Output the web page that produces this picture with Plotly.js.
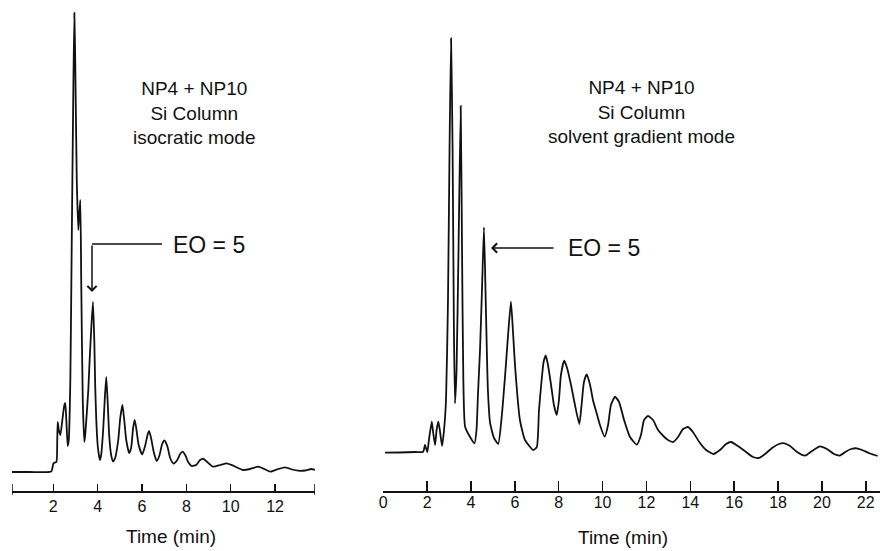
<!DOCTYPE html>
<html>
<head>
<meta charset="utf-8">
<script src="https://cdn.plot.ly/plotly-3.0.1.min.js"></script>
<style>html,body{margin:0;padding:0;background:#fff;}#chart{width:880px;height:551px;}</style>
</head>
<body>
<div id="chart"></div>
<script>
// Left chromatogram: isocratic mode (time in min, detector signal in arbitrary units)
const isoTime = [0.14,0.96,1.91,1.98,2.02,2.14,2.18,2.20,2.25,2.32,2.41,2.50,2.54,2.59,2.65,2.70,2.77,2.83,2.90,2.95,2.99,3.06,3.13,3.17,3.22,3.26,3.33,3.40,3.44,3.49,3.58,3.64,3.71,3.79,3.85,3.89,3.94,4.01,4.10,4.16,4.25,4.32,4.39,4.46,4.52,4.61,4.70,4.79,4.93,5.02,5.12,5.20,5.29,5.42,5.51,5.60,5.67,5.74,5.85,6.01,6.14,6.26,6.32,6.41,6.53,6.66,6.78,6.91,7.01,7.14,7.27,7.42,7.59,7.72,7.83,7.95,8.08,8.24,8.44,8.62,8.78,8.94,9.21,9.52,9.82,10.15,10.56,10.87,11.23,11.51,11.78,12.14,12.45,12.77,13.04,13.35,13.64,13.80];
const isoSignal = [0,0,0.5,6,9,10,32,50,42,37,52,67,69,52,26,32,92,222,372,459,412,292,242,257,272,192,72,30,37,52,82,112,142,170,132,87,52,25,12,17,42,72,95,67,37,17,10.5,14,32,54,67,52,32,19,24,44,52,44,27,17.5,26,38,41,34,20,11,16,28,31.5,26,14,8.5,12,18,20.3,17,10,6,7,12,13,10,5.3,7,8.7,6,2,3,5.3,3,0.3,3,4.7,2.5,1.3,1.5,3,2];

// Right chromatogram: solvent gradient mode
const gradTime = [0.08,0.76,1.45,1.82,1.90,2.01,2.08,2.21,2.27,2.36,2.43,2.51,2.59,2.68,2.77,2.86,2.95,3.02,3.09,3.16,3.22,3.27,3.34,3.43,3.53,3.59,3.65,3.73,3.95,4.16,4.25,4.32,4.41,4.50,4.59,4.66,4.72,4.77,4.87,5.05,5.24,5.40,5.55,5.69,5.82,5.91,6.01,6.23,6.46,6.84,7.00,7.10,7.22,7.31,7.41,7.51,7.65,7.78,7.91,8.01,8.10,8.25,8.38,8.56,8.74,8.94,9.05,9.15,9.28,9.43,9.56,9.73,9.88,10.09,10.25,10.38,10.57,10.75,10.98,11.25,11.56,11.75,11.89,12.07,12.30,12.53,12.77,12.98,13.22,13.44,13.67,13.89,14.12,14.44,14.72,15.05,15.35,15.63,15.86,16.17,16.54,16.86,17.11,17.41,17.73,18.04,18.30,18.55,18.87,19.23,19.55,19.91,20.23,20.55,20.83,21.10,21.33,21.59,21.83,22.19,22.54];
const gradSignal = [0.3,0.5,1,1.3,8,1,13,31.3,21,8,23,31.3,21,7,23,53,153,303,414.7,303,123,49.7,83,203,347,203,73,26.3,16.3,9.7,23,60,103,163,225.7,163,103,63,30,15,9,36.3,76.3,118,151.3,123,86.3,33,13,3,6,43,73,91,97.5,88,68,48,38,53,78,92.3,85,68,48,29,50,71,78.7,68,53,39.7,28,16.3,28,48,56.3,51,33,16,8.3,18,33,37,33,23,17,13,11,16,24,26,21,10,3,-1,3,9,11,7,1,-4,-5,-1,5,9,9.7,7,1,-2.7,2,6.7,4,-1,-2.5,1.5,4,4.7,3,-0.5,-3];

const isoTicks = [2,4,6,8,10,12];
const gradTicks = [0,2,4,6,8,10,12,14,16,18,20,22];

const isoLabel = ['NP4 + NP10','Si Column','isocratic mode'];
const gradLabel = ['NP4 + NP10','Si Column','solvent gradient mode'];
const peakLabel = 'EO = 5';
const axisTitle = 'Time (min)';

const FONT = '"Liberation Sans", Arial, Helvetica, sans-serif';
const INK = '#111';
const W = 880, PLOT_H = 491;
const px = v => v / W;
const py = v => (PLOT_H - v) / PLOT_H;

const traces = [
  {x: isoTime, y: isoSignal, xaxis: 'x', yaxis: 'y', type: 'scatter', mode: 'lines',
   line: {color: INK, width: 1.8, shape: 'spline', smoothing: 0.5}, hoverinfo: 'skip'},
  {x: gradTime, y: gradSignal, xaxis: 'x2', yaxis: 'y2', type: 'scatter', mode: 'lines',
   line: {color: INK, width: 1.8, shape: 'spline', smoothing: 0.5}, hoverinfo: 'skip'}
];

const xCommon = {
  showline: true, linecolor: INK, linewidth: 1.6, ticks: 'inside', tickcolor: INK, tickwidth: 1.5,
  showgrid: false, zeroline: false, tickfont: {family: FONT, size: 16, color: INK}, fixedrange: true
};
const yCommon = {visible: false, showgrid: false, zeroline: false, fixedrange: true};

const layout = {
  width: 880, height: 551,
  margin: {l: 0, r: 0, t: 0, b: 60},
  paper_bgcolor: '#fff', plot_bgcolor: '#fff',
  showlegend: false,
  xaxis: Object.assign({}, xCommon, {domain: [px(12), px(315)], range: [0.14, 13.80],
    tickvals: isoTicks, ticklen: 7, ticklabelstandoff: 0, anchor: 'y'}),
  yaxis: Object.assign({}, yCommon, {domain: [0, 1], range: [-19, 472], anchor: 'x'}),
  xaxis2: Object.assign({}, xCommon, {domain: [px(383.3), 1], range: [0, 22.65],
    tickvals: gradTicks, ticklen: 10, ticklabelstandoff: -4, anchor: 'y2'}),
  yaxis2: Object.assign({}, yCommon, {domain: [0, 1], range: [-38, 453], anchor: 'x2'}),
  shapes: [
    {type: 'line', xref: 'x', yref: 'paper', x0: 0.14, x1: 0.14, y0: -4 / PLOT_H, y1: 7 / PLOT_H, line: {color: INK, width: 1.5}},
    {type: 'line', xref: 'x', yref: 'paper', x0: 13.80, x1: 13.80, y0: -4 / PLOT_H, y1: 7 / PLOT_H, line: {color: INK, width: 1.5}},
    {type: 'line', xref: 'paper', yref: 'paper', x0: px(92), x1: px(162), y0: py(244), y1: py(244), line: {color: INK, width: 1.6}}
  ],
  annotations: [
    {xref: 'paper', yref: 'paper', x: px(194), y: py(113), text: isoLabel.join('<br>'), showarrow: false,
     xanchor: 'center', yanchor: 'middle', align: 'center', font: {family: FONT, size: 19, color: INK}},
    {xref: 'paper', yref: 'paper', x: px(641), y: py(111.7), text: gradLabel.join('<br>'), showarrow: false,
     xanchor: 'center', yanchor: 'middle', align: 'center', font: {family: FONT, size: 19, color: INK}},
    {xref: 'paper', yref: 'paper', x: px(209), y: py(245), text: peakLabel, showarrow: false,
     xanchor: 'center', yanchor: 'middle', font: {family: FONT, size: 23, color: INK}},
    {xref: 'paper', yref: 'paper', x: px(604), y: py(248), text: peakLabel, showarrow: false,
     xanchor: 'center', yanchor: 'middle', font: {family: FONT, size: 23, color: INK}},
    {xref: 'paper', yref: 'paper', x: px(92), y: py(292), text: '', showarrow: true, axref: 'pixel', ayref: 'pixel',
     ax: 0, ay: -48, arrowhead: 4, arrowsize: 1.2, arrowwidth: 1.5, arrowcolor: INK, standoff: 0},
    {xref: 'paper', yref: 'paper', x: px(491), y: py(248), text: '', showarrow: true, axref: 'pixel', ayref: 'pixel',
     ax: 64, ay: 0, arrowhead: 4, arrowsize: 1.2, arrowwidth: 1.5, arrowcolor: INK, standoff: 0},
    {xref: 'paper', yref: 'paper', x: px(171), y: py(536), text: axisTitle, showarrow: false,
     xanchor: 'center', yanchor: 'middle', font: {family: FONT, size: 19, color: INK}},
    {xref: 'paper', yref: 'paper', x: px(623), y: py(537), text: axisTitle, showarrow: false,
     xanchor: 'center', yanchor: 'middle', font: {family: FONT, size: 19, color: INK}}
  ]
};

Plotly.newPlot('chart', traces, layout, {staticPlot: true, displayModeBar: false});
</script>
</body>
</html>
